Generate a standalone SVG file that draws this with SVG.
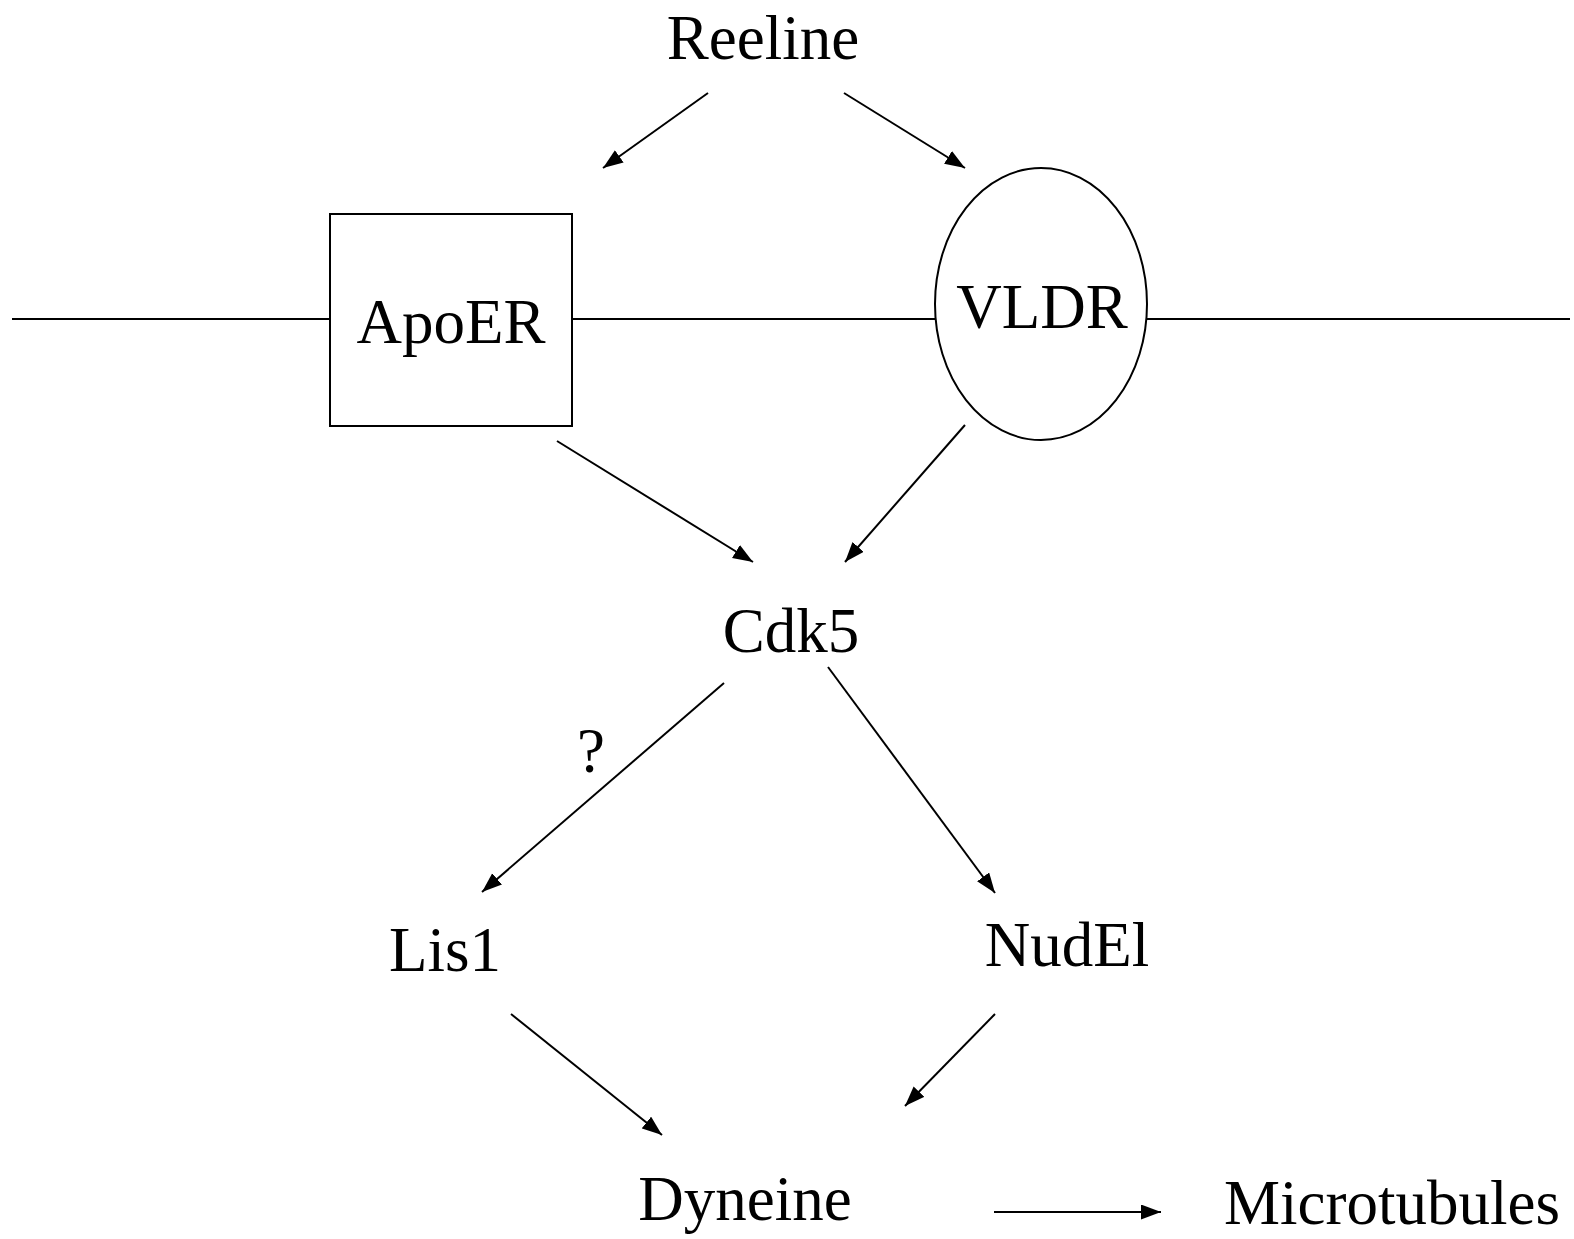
<svg xmlns="http://www.w3.org/2000/svg" width="1574" height="1239" viewBox="0 0 1574 1239">
<style>
.t{font-family:"Liberation Serif","Times New Roman",serif;font-size:63px;fill:#000;text-anchor:middle}
.s{fill:#fff;stroke:#000;stroke-width:2}
.c{stroke:#000;stroke-width:2;fill:none}
</style>
<defs>
<marker id="ah" markerUnits="userSpaceOnUse" markerWidth="22" markerHeight="16" refX="20" refY="7.5" orient="auto">
<path d="M0,0 L20,7.5 L0,15 z" fill="#000"/>
</marker>
</defs>
<rect width="1574" height="1239" fill="#fff"/>
<g id="membrane">
<line class="c" x1="12" y1="319" x2="330" y2="319"/>
<line class="c" x1="572" y1="319" x2="935" y2="319"/>
<line class="c" x1="1147" y1="319" x2="1570" y2="319"/>
</g>
<g id="reeline"><text class="t" x="763" y="59">Reeline</text></g>
<g id="apoer"><rect class="s" x="330" y="214" width="242" height="212"/><text class="t" x="451" y="343">ApoER</text></g>
<g id="vldr"><ellipse class="s" cx="1041" cy="304" rx="106" ry="136"/><text class="t" x="1042" y="328">VLDR</text></g>
<g id="cdk5"><text class="t" x="791" y="652">Cdk5</text></g>
<g id="lis1"><text class="t" x="445" y="971">Lis1</text></g>
<g id="nudel"><text class="t" x="1067" y="966">NudEl</text></g>
<g id="dyneine"><text class="t" x="745" y="1220">Dyneine</text></g>
<g id="microtubules"><text class="t" x="1392" y="1224">Microtubules</text></g>
<g id="connectors">
<line class="c" x1="708" y1="93" x2="603" y2="168" marker-end="url(#ah)"/>
<line class="c" x1="844" y1="93" x2="965" y2="168" marker-end="url(#ah)"/>
<line class="c" x1="557" y1="441" x2="753" y2="562" marker-end="url(#ah)"/>
<line class="c" x1="965" y1="425" x2="845" y2="562" marker-end="url(#ah)"/>
<line class="c" x1="724" y1="683" x2="482" y2="892" marker-end="url(#ah)"/>
<line class="c" x1="828" y1="667" x2="995" y2="893" marker-end="url(#ah)"/>
<line class="c" x1="511" y1="1014" x2="662" y2="1135" marker-end="url(#ah)"/>
<line class="c" x1="995" y1="1014" x2="905" y2="1106" marker-end="url(#ah)"/>
<line class="c" x1="994" y1="1212" x2="1161" y2="1212" marker-end="url(#ah)"/>
<text class="t" x="591" y="772">?</text>
</g>
</svg>
